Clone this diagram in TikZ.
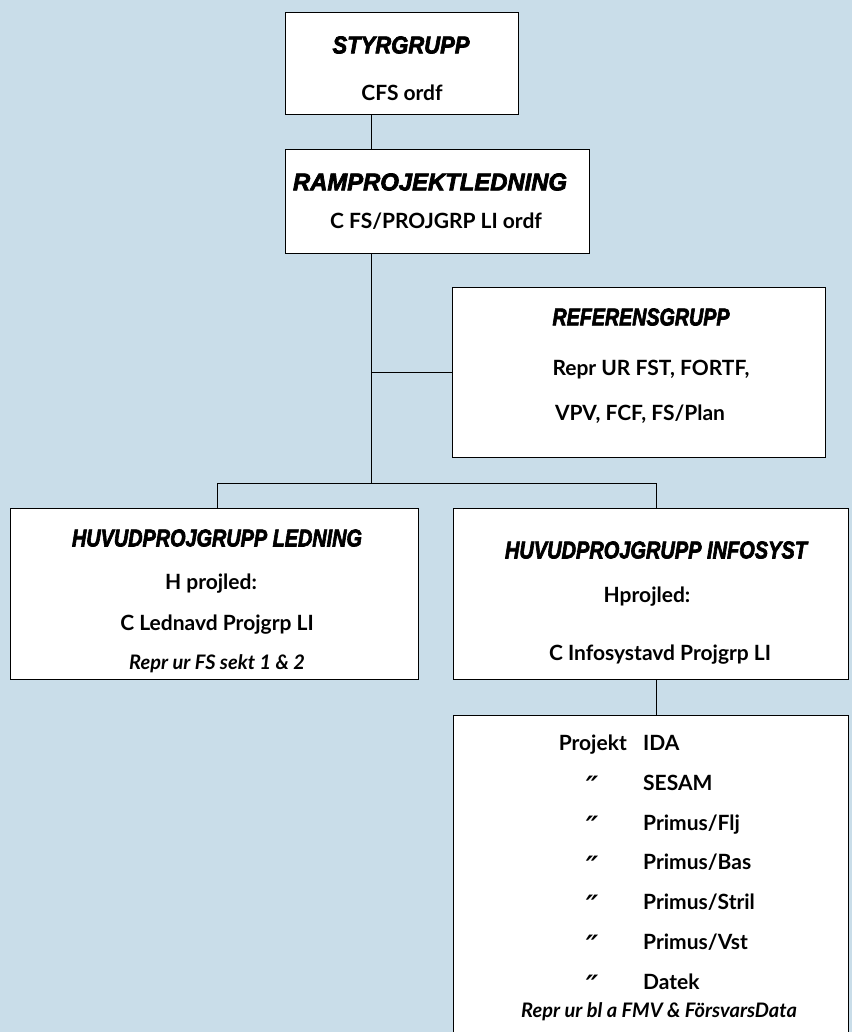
\documentclass[tikz,border=0pt]{standalone}
\usepackage{fontspec}
\setmainfont{Lato}
\newfontfamily\rubrikfont[FakeBold=3]{Liberation Sans}
\newfontfamily\dittofont{DejaVu Sans}
\usepackage{graphicx}
\usetikzlibrary{calc}
\definecolor{bakgrund}{RGB}{201,221,233}
\newcommand{\rubrik}[2]{\resizebox{#1}{17pt}{\rubrikfont\bfseries\itshape #2}}

\begin{document}
\begin{tikzpicture}[x=1pt,y=-1pt,
  ruta/.style 2 args={draw=black,fill=white,line width=1pt,minimum width=#1,minimum height=#2,inner sep=0pt},
  rubr/.style={inner sep=0pt},
  txt/.style={font=\fontsize{21}{24}\selectfont\bfseries,text height=15pt,text depth=0pt,inner sep=0pt},
  kursiv/.style={font=\fontsize{20}{24}\selectfont\bfseries\itshape,text height=14pt,text depth=0pt,inner sep=0pt},
  ditto/.style={font=\fontsize{28}{30}\selectfont\dittofont\bfseries\itshape,anchor=north,inner sep=0pt},
  linje/.style={line width=1pt}]
\useasboundingbox (0,0) rectangle (852,1032);
\fill[bakgrund] (0,0) rectangle (852,1032);

% rutor
\node[ruta={233pt}{102pt}] (styr) at (401.5,64) {};
\node[ruta={304pt}{103pt}] (ramp) at (437,201.5) {};
\node[ruta={373pt}{170pt}] (ref) at (638.5,372) {};
\node[ruta={408pt}{171pt}] (led) at (214,593.5) {};
\node[ruta={395pt}{171pt}] (info) at (650.5,593.5) {};
\node[ruta={395pt}{340pt}] (proj) at (650.5,885) {};

% texter
\node[rubr] (styrR) at (401,45) {\rubrik{137pt}{STYRGRUPP}};
\node[txt] (styrT) at (402,93) {CFS ordf};

\node[rubr] (rampR) at (430,182) {\rubrik{274pt}{RAMPROJEKTLEDNING}};
\node[txt] (rampT) at (436,221) {C FS/PROJGRP LI ordf};

\node[rubr] (refR) at (641,317) {\rubrik{177pt}{REFERENSGRUPP}};
\node[txt] (refT1) at (651,368) {Repr UR FST, FORTF,};
\node[txt] (refT2) at (640,413) {VPV, FCF, FS/Plan};

\node[rubr] (ledR) at (217,538) {\rubrik{290pt}{HUVUDPROJGRUPP LEDNING}};
\node[txt] (ledT1) at (211,582) {H projled:};
\node[txt] (ledT2) at (217,623) {C Lednavd Projgrp LI};
\node[kursiv] (ledT3) at (217,662) {Repr ur FS sekt 1 \& 2};

\node[rubr] (infoR) at (656,550) {\rubrik{302pt}{HUVUDPROJGRUPP INFOSYST}};
\node[txt] (infoT1) at (647,595) {Hprojled:};
\node[txt] (infoT2) at (660,653) {C Infosystavd Projgrp LI};

\node[txt,anchor=east] (projK) at (627,743) {Projekt};
\foreach \namn [count=\i from 0] in {IDA,SESAM,Primus/Flj,Primus/Bas,Primus/Stril,Primus/Vst,Datek}{
  \node[txt,anchor=west] (p\i) at (643,743+\i*39.8) {\namn};
  \ifnum\i>0
    \node[ditto] (d\i) at (592,736+\i*39.8) {″};
  \fi
}
\node[kursiv] (projT) at (659,1010) {Repr ur bl a FMV \& FörsvarsData};

% linjer
\coordinate (stam) at (371,0);
\coordinate (vgren) at (217,483);
\coordinate (hgren) at (656,483);
\draw[linje] (styr.south -| stam) -- (ramp.north -| stam);
\draw[linje] (ramp.south -| stam) -- (vgren -| stam);
\draw[linje] (stam |- ref.west) -- (ref.west);
\draw[linje] (vgren) -- (hgren);
\draw[linje] (vgren) -- (vgren |- led.north);
\draw[linje] (hgren) -- (hgren |- info.north);
\draw[linje] (info.south -| hgren) -- (proj.north -| hgren);
\end{tikzpicture}
\end{document}
